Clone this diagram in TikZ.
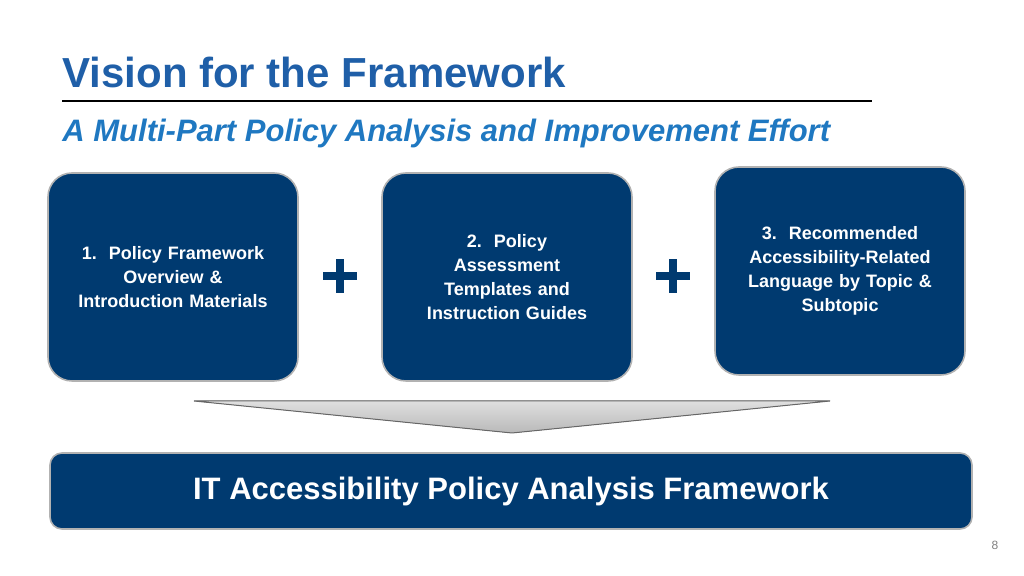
\documentclass[tikz,border=0pt]{standalone}
\usepackage{fontspec}
\setmainfont{Liberation Sans}
\usetikzlibrary{positioning}
\definecolor{navy}{HTML}{003A70}
\definecolor{titleblue}{HTML}{1F5FA8}
\definecolor{subblue}{HTML}{1F78C1}
\tikzset{
  partbox/.style={draw=gray!60, line width=0.8pt, fill=navy, rounded corners=12pt,
    minimum width=125pt, minimum height=104pt, text=white, align=center,
    font=\fontsize{9}{12}\selectfont\bfseries, text width=118pt},
  plussign/.style={fill=navy, draw=none}
}
\begin{document}
\begin{tikzpicture}[x=0.5pt, y=-0.5pt]
  \useasboundingbox (0,0) rectangle (1024,576);

  % heading
  \node[anchor=base west, inner sep=0pt, text=titleblue, font=\fontsize{21}{24}\selectfont\bfseries]
    (title) at (62,88) {Vision for the Framework};
  \draw[line width=1.2pt] (62,101) -- (872,101);
  \node[anchor=base west, inner sep=0pt, text=subblue, font=\fontsize{15.5}{18}\selectfont\bfseries\itshape]
    (subtitle) at (62,142) {A Multi-Part Policy Analysis and Improvement Effort};

  % the three parts
  \node[partbox] (part1) at (173,277) {1.\ \ Policy Framework\\Overview \&\\Introduction Materials};
  \node[partbox] (part2) at (507,277) {2.\ \ Policy\\Assessment\\Templates and\\Instruction Guides};
  \node[partbox] (part3) at (840,271) {3.\ \ Recommended\\Accessibility-Related\\Language by Topic \&\\Subtopic};

  % plus signs
  \foreach \px in {340,673}{
    \fill[plussign] (\px-4,259) rectangle (\px+4,293);
    \fill[plussign] (\px-17,272) rectangle (\px+17,280);
  }

  % funnel
  \filldraw[draw=gray!80!black, top color=gray!25, bottom color=gray!55, line width=0.5pt]
    (194,401) -- (830,401) -- (512,433) -- cycle;

  % result
  \node[draw=gray!60, line width=0.8pt, fill=navy, rounded corners=6pt, minimum width=461pt,
    minimum height=38pt, text=white, font=\fontsize{15.5}{18}\selectfont\bfseries]
    (result) at (511,491) {IT Accessibility Policy Analysis Framework};

  \node[text=gray, font=\fontsize{6}{7}\selectfont] (page) at (995,545) {8};
\end{tikzpicture}
\end{document}
